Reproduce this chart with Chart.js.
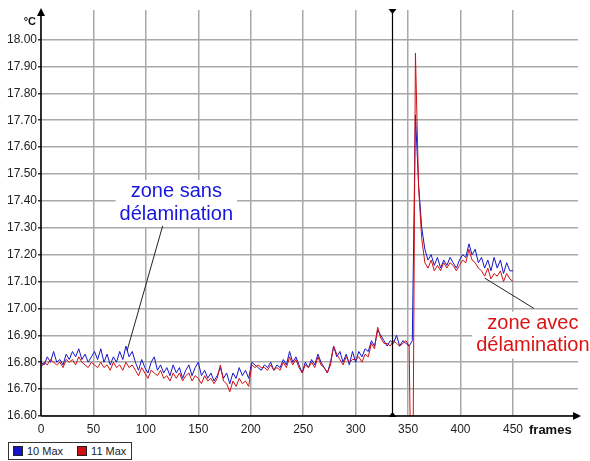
<!DOCTYPE html>
<html>
<head>
<meta charset="utf-8">
<script src="https://cdn.jsdelivr.net/npm/chart.js@4.4.1/dist/chart.umd.min.js"></script>
<style>
  html, body { margin: 0; padding: 0; background: #fff; }
  #wrap { position: relative; width: 590px; height: 461px; }
  #legend {
    position: absolute; left: 8px; top: 442px; height: 16px;
    border: 1px solid #333; background: #fff;
    font: 11px Arial, "Liberation Sans", sans-serif; color: #222;
    display: flex; align-items: center; padding: 0 5px 0 4px;
  }
  #legend .sw { display: inline-block; width: 8px; height: 8px; border: 1px solid #222; margin-right: 4px; }
  #legend .item { display: flex; align-items: center; margin-right: 14px; }
  #legend .item:last-child { margin-right: 0; }
</style>
</head>
<body>
<div id="wrap">
  <canvas id="chart" width="590" height="461"></canvas>
  <div id="legend">
    <span class="item"><span class="sw" style="background:#1414c8"></span>10 Max</span>
    <span class="item"><span class="sw" style="background:#d01010"></span>11 Max</span>
  </div>
</div>
<script>
// échantillons (frames), un point toutes les 3 frames
const frames = [];
for (let f = 0; f <= 450; f += 3) frames.push(f);

// 10 Max (bleu)
const max10 = [
  16.80, 16.79, 16.82, 16.80, 16.84, 16.80, 16.81, 16.79, 16.83, 16.81,
  16.84, 16.82, 16.85, 16.81, 16.83, 16.80, 16.82, 16.84, 16.81, 16.85,
  16.80, 16.83, 16.79, 16.82, 16.80, 16.84, 16.81, 16.86, 16.82, 16.84,
  16.80, 16.77, 16.81, 16.78, 16.76, 16.80, 16.82, 16.77, 16.79, 16.76,
  16.78, 16.75, 16.79, 16.76, 16.78, 16.74, 16.77, 16.79, 16.75, 16.78,
  16.80, 16.75, 16.77, 16.74, 16.76, 16.73, 16.75, 16.78, 16.74, 16.76,
  16.72, 16.76, 16.74, 16.78, 16.75, 16.77, 16.74, 16.80, 16.79, 16.78,
  16.77, 16.79, 16.78, 16.80, 16.77, 16.79, 16.78, 16.81, 16.79, 16.84,
  16.80, 16.82, 16.79, 16.76, 16.80, 16.78, 16.81, 16.79, 16.83, 16.80,
  16.78, 16.76, 16.80, 16.86, 16.82, 16.84, 16.80, 16.83, 16.79, 16.84,
  16.80, 16.84, 16.82, 16.85, 16.84, 16.88, 16.86, 16.92, 16.90, 16.88,
  16.86, 16.88, 16.87, 16.90, 16.86, 16.88, 16.87, 16.86, 16.88, 17.72,
  17.46, 17.30, 17.22, 17.18, 17.20, 17.16, 17.19, 17.15, 17.18, 17.16,
  17.19, 17.17, 17.15, 17.18, 17.20, 17.19, 17.24, 17.20, 17.22, 17.17,
  17.19, 17.15, 17.18, 17.14, 17.19, 17.15, 17.18, 17.13, 17.17, 17.14,
  17.14
];

// 11 Max (rouge)
const max11 = [
  16.78, 16.80, 16.79, 16.81, 16.80, 16.79, 16.80, 16.78, 16.81, 16.80,
  16.81, 16.79, 16.82, 16.80, 16.79, 16.78, 16.80, 16.79, 16.78, 16.80,
  16.78, 16.79, 16.77, 16.80, 16.78, 16.79, 16.77, 16.80, 16.78, 16.79,
  16.77, 16.75, 16.78, 16.76, 16.74, 16.77, 16.76, 16.75, 16.77, 16.74,
  16.75, 16.73, 16.76, 16.74, 16.76, 16.73, 16.75, 16.76, 16.73, 16.75,
  16.74, 16.72, 16.75, 16.73, 16.74, 16.72, 16.74, 16.79, 16.73, 16.72,
  16.69, 16.73, 16.71, 16.74, 16.72, 16.73, 16.71, 16.79, 16.78, 16.79,
  16.78, 16.78, 16.77, 16.79, 16.77, 16.78, 16.77, 16.80, 16.78, 16.82,
  16.79, 16.81, 16.78, 16.76, 16.79, 16.78, 16.80, 16.78, 16.82, 16.79,
  16.78, 16.76, 16.79, 16.86, 16.83, 16.81, 16.79, 16.82, 16.80, 16.81,
  16.81, 16.82, 16.80, 16.83, 16.82, 16.87, 16.85, 16.93, 16.89, 16.87,
  16.87, 16.86, 16.88, 16.87, 16.86, 16.87, 16.88, 16.86, 16.00, 17.95,
  17.45, 17.26, 17.17, 17.15, 17.18, 17.14, 17.16, 17.14, 17.17, 17.15,
  17.17, 17.16, 17.14, 17.16, 17.18, 17.17, 17.22, 17.18, 17.17, 17.15,
  17.14, 17.12, 17.15, 17.11, 17.13, 17.12, 17.14, 17.10, 17.13, 17.11,
  17.10
];

const xTicks = [0, 50, 100, 150, 200, 250, 300, 350, 400, 450];
const yTicks = [16.6, 16.7, 16.8, 16.9, 17.0, 17.1, 17.2, 17.3, 17.4, 17.5,
                17.6, 17.7, 17.8, 17.9, 18.0];
const markerFrame = 335;

const FONT = 'Arial, "Liberation Sans", sans-serif';

function tri(ctx, x1, y1, x2, y2, x3, y3) {
  ctx.beginPath();
  ctx.moveTo(x1, y1); ctx.lineTo(x2, y2); ctx.lineTo(x3, y3);
  ctx.closePath();
  ctx.fill();
}

function note(ctx, x, y, lines, color, from, to) {
  // bloc de texte + trait de rappel
  ctx.font = '20px ' + FONT;
  ctx.textAlign = 'center';
  ctx.textBaseline = 'alphabetic';
  const cx = x.getPixelForValue(lines.frame);
  const w = Math.max(...lines.text.map(t => ctx.measureText(t).width));
  const y0 = y.getPixelForValue(lines.values[0]);
  const y1 = y.getPixelForValue(lines.values[lines.values.length - 1]);
  ctx.fillStyle = '#fff';
  ctx.fillRect(cx - w / 2 - 4, y0 - 17, w + 8, y1 - y0 + 24);
  ctx.strokeStyle = '#222';
  ctx.lineWidth = 1;
  ctx.beginPath();
  ctx.moveTo(x.getPixelForValue(from[0]), y.getPixelForValue(from[1]));
  ctx.lineTo(x.getPixelForValue(to[0]), y.getPixelForValue(to[1]));
  ctx.stroke();
  ctx.fillStyle = color;
  lines.text.forEach((t, i) => ctx.fillText(t, cx, y.getPixelForValue(lines.values[i])));
}

const overlay = {
  id: 'overlay',
  afterDraw(chart) {
    const { ctx, chartArea: a, scales: { x, y } } = chart;
    ctx.save();

    // axes avec flèches
    ctx.strokeStyle = '#000';
    ctx.fillStyle = '#000';
    ctx.lineWidth = 1.5;
    ctx.beginPath();
    ctx.moveTo(a.left, a.bottom); ctx.lineTo(a.left, a.top + 2);
    ctx.moveTo(a.left, a.bottom); ctx.lineTo(a.right - 2, a.bottom);
    ctx.stroke();
    tri(ctx, a.left, a.top - 2, a.left - 4, a.top + 6, a.left + 4, a.top + 6);
    tri(ctx, a.right + 3, a.bottom, a.right - 5, a.bottom - 4, a.right - 5, a.bottom + 4);

    // curseur vertical
    const mx = Math.round(x.getPixelForValue(markerFrame)) + 0.5;
    ctx.lineWidth = 1.2;
    ctx.beginPath();
    ctx.moveTo(mx, a.top); ctx.lineTo(mx, a.bottom);
    ctx.stroke();
    tri(ctx, mx, a.top + 4, mx - 4, a.top - 1, mx + 4, a.top - 1);
    tri(ctx, mx, a.bottom - 4, mx - 4, a.bottom + 1, mx + 4, a.bottom + 1);

    // titres d'axes
    ctx.fillStyle = '#111';
    ctx.font = 'bold 11px ' + FONT;
    ctx.textAlign = 'right';
    ctx.textBaseline = 'alphabetic';
    ctx.fillText('°C', a.left - 5, a.top + 15);
    ctx.font = 'bold 13px ' + FONT;
    ctx.textAlign = 'left';
    ctx.fillText('frames', 529, a.bottom + 18);

    // annotations
    note(ctx, x, y, { frame: 129, values: [17.415, 17.329], text: ['zone sans', 'délamination'] },
         '#1616dc', [116, 17.307], [82, 16.842]);
    ctx.save();
    ctx.strokeStyle = '#222';
    note(ctx, x, y, { frame: 469, values: [16.925, 16.84], text: ['zone avec', 'délamination'] },
         '#dc1414', [423, 17.113], [470, 17.0]);
    ctx.restore();

    ctx.restore();
  }
};

new Chart(document.getElementById('chart'), {
  type: 'line',
  data: {
    datasets: [{
      label: '10 Max',
      data: frames.map((f, i) => ({ x: f, y: max10[i] })),
      borderColor: '#1414c8',
      borderWidth: 1,
      pointRadius: 0,
      tension: 0,
      order: 2
    }, {
      label: '11 Max',
      data: frames.map((f, i) => ({ x: f, y: max11[i] })),
      borderColor: '#d01010',
      borderWidth: 1,
      pointRadius: 0,
      tension: 0,
      order: 1
    }]
  },
  options: {
    responsive: false,
    animation: false,
    events: [],
    layout: { padding: { left: 0, right: 12, top: 10, bottom: 0 } },
    plugins: {
      legend: { display: false },
      tooltip: { enabled: false }
    },
    scales: {
      x: {
        type: 'linear',
        min: 0,
        max: 512,
        afterBuildTicks: s => { s.ticks = xTicks.map(v => ({ value: v })); },
        afterFit: s => { s.height = 45; },
        border: { display: false },
        grid: { color: '#a8a8a8', lineWidth: 1.5, drawTicks: false },
        ticks: {
          color: '#222',
          font: { family: FONT, size: 12 },
          padding: 6,
          maxRotation: 0,
          autoSkip: false
        }
      },
      y: {
        min: 16.6,
        max: 18.11,
        afterBuildTicks: s => { s.ticks = yTicks.map(v => ({ value: v })); },
        afterFit: s => { s.width = 41; },
        border: { display: false },
        grid: { color: '#a8a8a8', lineWidth: 1.5, tickLength: 3, tickColor: '#333' },
        ticks: {
          color: '#222',
          font: { family: FONT, size: 12 },
          padding: 1,
          autoSkip: false,
          callback: v => v.toFixed(2)
        }
      }
    }
  },
  plugins: [overlay]
});
</script>
</body>
</html>
